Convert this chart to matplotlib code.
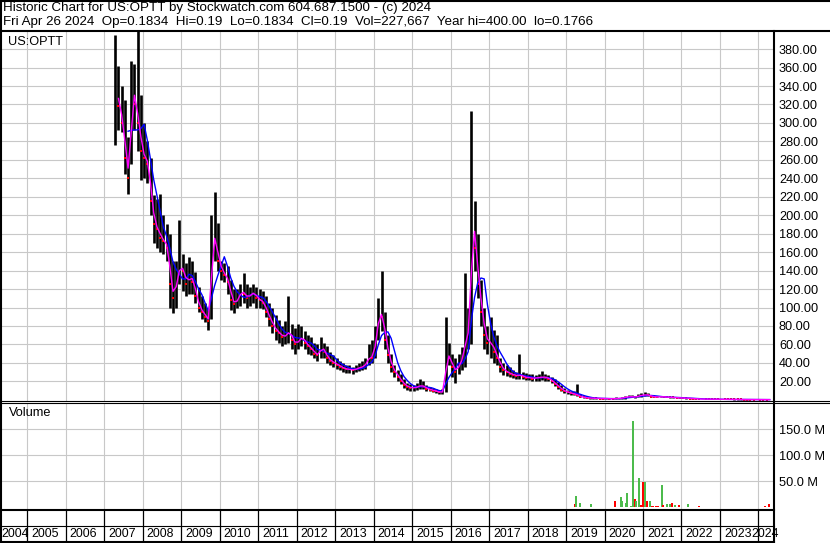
import numpy as np
import pandas as pd
import matplotlib
matplotlib.use('Agg')
import matplotlib.pyplot as plt
from matplotlib.lines import Line2D

plt.rcParams['font.family'] = ['Liberation Sans', 'DejaVu Sans']

W, H = 830, 543
FS = 9.2   # axis labels
FS_YEAR = 8.9
FS_HEAD = 9.6

# monthly bars, Apr 2007 .. Apr 2024 (one row per year)
first_month = '2007-04'
highs = [
    395, 362, 340, 325, 285, 367, 364, 400, 330,
    300, 280, 262, 222, 218, 223, 200, 190, 180, 150, 150, 195,
    158, 148, 155, 150, 138, 122, 112, 105, 100, 200, 225, 192,
    150, 148, 145, 130, 120, 120, 126, 137, 125, 122, 125, 122,
    120, 118, 112, 105, 100, 92, 86, 80, 85, 112, 82, 78,
    82, 80, 75, 70, 68, 62, 60, 68, 62, 58, 52, 48,
    45, 42, 40, 38, 38, 36, 38, 40, 42, 45, 60, 65,
    80, 110, 140, 95, 70, 50, 38, 32, 28, 22, 18, 17,
    16, 18, 22, 20, 16, 14, 13, 12, 11, 12, 90, 62,
    50, 45, 50, 57, 137, 100, 313, 215, 180, 130, 100, 80,
    90, 76, 70, 45, 40, 38, 35, 32, 30, 50, 30, 29,
    28, 28, 27, 28, 31, 28, 27, 25, 22, 19, 16, 13,
    11, 10, 9, 17, 6, 4, 3, 2.6, 2.4, 2.2, 2.0, 2.0,
    2.0, 1.9, 1.8, 2.5, 2.2, 2.8, 4.0, 5.0, 5.0, 4.0, 6.0, 7.0,
    8.0, 7.0, 5.5, 4.5, 4.0, 4.2, 3.8, 3.5, 3.3, 3.5, 3.0, 2.8,
    2.2, 2.0, 1.8, 1.6, 1.3, 1.1, 1.0, 0.9, 0.8, 0.7, 0.7, 0.6,
    0.6, 0.6, 0.55, 0.5, 0.5, 0.45, 0.45, 0.4, 0.35, 0.3, 0.3, 0.3,
    0.28, 0.25, 0.24, 0.21,
]
lows = [
    276, 292, 290, 245, 223, 255, 292, 270, 238,
    240, 235, 200, 170, 165, 160, 158, 150, 100, 94, 100, 125,
    118, 112, 115, 115, 105, 95, 88, 84, 76, 88, 150, 140,
    130, 128, 115, 97, 94, 100, 102, 105, 100, 102, 105, 100,
    100, 98, 90, 80, 72, 65, 62, 58, 60, 62, 55, 50,
    55, 58, 55, 50, 48, 45, 42, 45, 45, 40, 38, 35,
    33, 32, 30, 29, 29, 28, 30, 31, 32, 33, 38, 40,
    45, 65, 75, 55, 40, 30, 25, 20, 17, 13, 11, 10,
    10, 11, 12, 12, 10, 9, 8, 7, 6, 6, 8, 38,
    25, 18, 28, 32, 35, 55, 60, 140, 110, 80, 55, 50,
    45, 40, 38, 30, 27, 26, 25, 24, 23, 22, 22, 21,
    21, 20, 20, 20, 21, 20, 20, 18, 15, 12, 9, 7,
    6, 5, 5, 4, 2.5, 2, 1.5, 1.4, 1.3, 1.2, 1.1, 1.0,
    1.0, 0.9, 0.8, 0.9, 1.0, 1.2, 1.3, 2.5, 2.5, 2.3, 2.5, 3.5,
    4.0, 4.0, 3.0, 2.8, 2.6, 2.8, 2.7, 2.5, 2.4, 2.3, 2.0, 1.8,
    1.5, 1.4, 1.2, 1.0, 0.8, 0.7, 0.6, 0.6, 0.5, 0.5, 0.45, 0.4,
    0.4, 0.4, 0.35, 0.35, 0.32, 0.3, 0.3, 0.25, 0.22, 0.2, 0.2, 0.2,
    0.19, 0.18, 0.18, 0.18,
]
closes = [
    335, 318, 300, 262, 240, 340, 320, 300, 270,
    262, 255, 215, 190, 185, 175, 172, 165, 125, 110, 135, 145,
    140, 125, 135, 128, 112, 100, 95, 90, 85, 180, 170, 150,
    140, 135, 128, 108, 104, 110, 118, 115, 110, 115, 116, 110,
    108, 105, 95, 88, 80, 75, 72, 68, 70, 75, 65, 60,
    65, 68, 62, 58, 55, 50, 48, 58, 52, 45, 42, 40,
    38, 36, 34, 33, 33, 32, 34, 35, 36, 40, 48, 45,
    70, 95, 90, 65, 48, 35, 30, 25, 20, 16, 14, 13,
    13, 14, 16, 14, 12, 11, 10, 9, 8, 9, 50, 45,
    35, 30, 40, 45, 70, 75, 200, 165, 125, 95, 70, 62,
    62, 52, 45, 36, 32, 30, 28, 27, 26, 27, 25, 24,
    24, 23, 24, 24, 25, 24, 23, 20, 17, 14, 11, 9,
    8, 7, 6, 5, 3, 2.5, 2, 1.8, 1.6, 1.5, 1.4, 1.3,
    1.3, 1.2, 1.1, 1.4, 1.5, 2.2, 3.0, 3.5, 3.0, 3.0, 4.5, 5.0,
    5.5, 5.0, 3.5, 3.2, 3.0, 3.5, 3.0, 2.8, 2.6, 2.5, 2.2, 2.0,
    1.8, 1.6, 1.4, 1.2, 0.9, 0.8, 0.8, 0.7, 0.6, 0.55, 0.5, 0.45,
    0.5, 0.45, 0.42, 0.4, 0.38, 0.35, 0.33, 0.3, 0.26, 0.24, 0.22, 0.22,
    0.21, 0.2, 0.19, 0.19,
]

# weekly volume bars (millions), date as decimal year, up week or not
vol_dates = [2017.75, 2019.23, 2019.26, 2019.36, 2019.47, 2019.65, 2020.01,
             2020.27, 2020.43, 2020.46, 2020.55, 2020.58, 2020.70, 2020.75,
             2020.80, 2020.82, 2020.89, 2020.95, 2021.01, 2021.05, 2021.10,
             2021.18, 2021.22, 2021.27, 2021.33, 2021.40, 2021.49, 2021.53,
             2021.62, 2021.70, 2021.75, 2021.83, 2021.94, 2022.17, 2022.45,
             2022.58, 2024.17, 2024.27]
vol_values = [0.6, 6.4, 21.7, 8.3, 1.0, 6.4, 0.6,
              12, 19.9, 12, 9, 27.6, 3, 166,
              16, 12, 56, 4, 48.6, 48.6, 12,
              12, 2.5, 2.5, 2.5, 2, 43, 4.5,
              6.4, 6.4, 8, 4, 4.5, 6.4, 2.5,
              0.8, 2.5, 6.4]
vol_up = [1, 0, 1, 1, 0, 1, 1,
          0, 1, 1, 1, 1, 1, 1,
          0, 1, 1, 0, 0, 1, 0,
          1, 0, 0, 0, 0, 1, 0,
          1, 1, 0, 1, 0, 1, 0,
          1, 0, 0]

years = np.arange(2005, 2025)

# pixel layout
PX_YEAR = 38.5
X2005 = 27.0
x_left, x_right = 2.0, 773.0


def px_year(px):
    return 2005 + (px - X2005) / PX_YEAR


x0, x1 = px_year(x_left), px_year(x_right)


def fig_rect(left, top, right, bottom):
    return [left / W, 1 - bottom / H, (right - left) / W, (bottom - top) / H]


months = pd.period_range(first_month, periods=len(closes), freq='M')
xd = np.array([p.year + (p.month - 0.5) / 12 for p in months])
hi = np.array(highs)
lo = np.array(lows)
cl = np.array(closes)
ma_fast = pd.Series(cl).rolling(2).mean()
ma_slow = pd.Series(cl).rolling(5).mean()
down = np.r_[False, cl[1:] < cl[:-1]]

fig = plt.figure(figsize=(W / 100, H / 100), dpi=100)
fig.patch.set_facecolor('white')

grid_kw = dict(color='#c8c8c8', linewidth=0.8)

# price panel
pa = fig.add_axes(fig_rect(x_left, 31, x_right, 401))
pa.set_xlim(x0, x1)
pa.set_ylim(-1.3, 399.6)
pa.set_xticks(years)
pa.set_yticks(np.arange(20, 400, 20))
pa.set_yticklabels(['%.2f' % v for v in np.arange(20, 400, 20)])
pa.grid(True, **grid_kw)
pa.set_axisbelow(True)
pa.tick_params(axis='both', length=0, labelbottom=False, labelleft=False,
               labelright=True, labelsize=FS, pad=4.3)
for s in pa.spines.values():
    s.set_visible(False)
pa.vlines(xd, lo, hi, color='black', linewidth=1.9)
pa.plot(xd[down], cl[down], ls='none', marker='s', ms=1.7, mew=0, color='red')
pa.plot(xd, ma_slow, color='#0000ff', linewidth=1.0)
pa.plot(xd, ma_fast, color='#ff00ff', linewidth=1.0)
pa.text(6 / 771, 1 - 11 / 370, 'US:OPTT', transform=pa.transAxes,
        fontsize=FS, va='center', ha='left')

# volume panel
va = fig.add_axes(fig_rect(x_left, 403, x_right, 509.5))
va.set_xlim(x0, x1)
va.set_ylim(-4.2, 200.1)
va.set_xticks(years)
va.set_yticks([50, 100, 150])
va.set_yticklabels(['50.0 M', '100.0 M', '150.0 M'])
va.grid(True, **grid_kw)
va.set_axisbelow(True)
va.tick_params(axis='both', length=0, labelbottom=False, labelleft=False,
               labelright=True, labelsize=FS, pad=4.3)
for s in va.spines.values():
    s.set_visible(False)
vcol = ['#4cbb4c' if u else '#ff0000' for u in vol_up]
va.bar(vol_dates, vol_values, width=0.05, color=vcol, linewidth=0)
va.text(7 / 771, 1 - 10 / 106.5, 'Volume', transform=va.transAxes,
        fontsize=FS, va='center', ha='left')

# date strip
da = fig.add_axes(fig_rect(x_left, 509.5, x_right, 541.5))
da.set_xlim(x0, x1)
da.set_ylim(0, 1)
da.axis('off')
da.vlines(years, 0, 1, color='black', linewidth=0.9)
off = 4 / PX_YEAR
da.text(px_year(1.5), 0.24, '2004', fontsize=FS_YEAR, va='center', ha='left',
        clip_on=False)
for y in years[:-1]:
    da.text(y + off, 0.24, str(y), fontsize=FS_YEAR, va='center', ha='left')
# last label squeezed right after 2023, running into the frame
da.text(px_year(751), 0.24, '2024', fontsize=FS_YEAR, va='center', ha='left',
        clip_on=False)

# frame and header in pixel coordinates
ov = fig.add_axes([0, 0, 1, 1])
ov.set_xlim(0, W)
ov.set_ylim(H, 0)
ov.axis('off')
ov.patch.set_visible(False)


def hline(y, xa, xb, lw):
    ov.add_line(Line2D([xa, xb], [y, y], color='black', linewidth=lw))


def vline(x, ya, yb, lw):
    ov.add_line(Line2D([x, x], [ya, yb], color='black', linewidth=lw))


hline(0.7, 0, W, 1.5)
hline(30.5, 0, W, 1.5)
hline(400.7, 0, W, 0.8)
hline(402.7, 0, W, 0.8)
hline(509.5, 0, 774, 1.5)
hline(526.0, 0, 774, 0.8)
hline(541.5, 0, 774, 1.5)
vline(0.8, 0, 542, 1.5)
vline(773.5, 31, 542.2, 1.5)

ov.text(3, 8.5, 'Historic Chart for US:OPTT by Stockwatch.com 604.687.1500 - (c) 2024',
        fontsize=FS_HEAD, va='center', ha='left')
ov.text(3, 21.5, 'Fri Apr 26 2024  Op=0.1834  Hi=0.19  Lo=0.1834  Cl=0.19  '
        'Vol=227,667  Year hi=400.00  lo=0.1766',
        fontsize=FS_HEAD, va='center', ha='left')

fig.savefig('out.png', dpi=100, facecolor='white')
